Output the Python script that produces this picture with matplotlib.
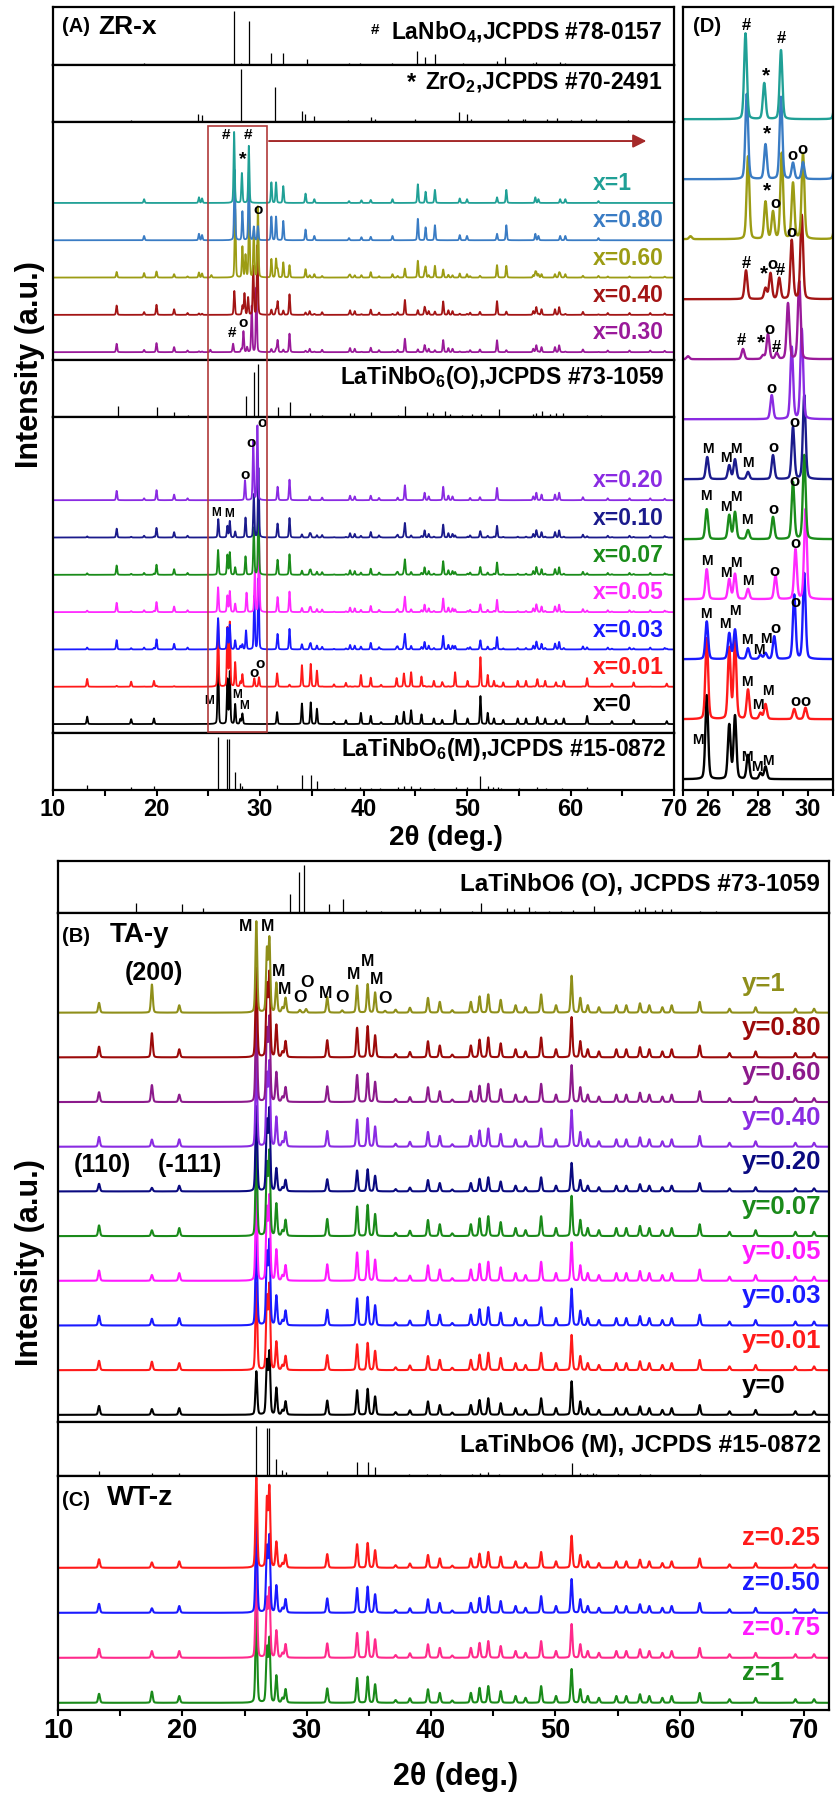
import numpy as np
import matplotlib
matplotlib.use('Agg')
import matplotlib.pyplot as plt
from matplotlib import transforms
from matplotlib.patches import Rectangle
from matplotlib.ticker import MultipleLocator

plt.rcParams['font.family'] = ['Liberation Sans', 'DejaVu Sans']
plt.rcParams['font.weight'] = 'bold'
plt.rcParams['mathtext.fontset'] = 'custom'
plt.rcParams['mathtext.rm'] = 'Liberation Sans:bold'
plt.rcParams['mathtext.bf'] = 'Liberation Sans:bold'
plt.rcParams['mathtext.default'] = 'bf'
SANS = ['Liberation Sans', 'DejaVu Sans']

# ---------------- JCPDS reference sticks (2theta, rel. intensity) ----------------
LANBO4_POS = [18.8, 27.45, 28.2, 28.9, 31.03, 32.25, 34.5, 38.6, 39.66, 42.8, 45.2, 45.9, 46.9,
              49.64, 52.9, 53.7, 56.4, 56.7, 59.0, 59.5, 62.6, 67.4]
LANBO4_INT = [0.03, 1.0, 0.03, 0.82, 0.22, 0.22, 0.12, 0.03, 0.03, 0.03, 0.26, 0.15, 0.2,
              0.03, 0.07, 0.15, 0.04, 0.05, 0.05, 0.04, 0.02, 0.02]

ZRO2_POS = [17.5, 24.05, 24.4, 28.17, 31.45, 34.1, 34.3, 35.25, 38.5, 40.7, 41.1, 45.0, 49.2,
            50.0, 50.4, 54.0, 55.4, 55.6, 57.7, 58.65, 60.0, 61.0, 62.5, 65.6]
ZRO2_INT = [0.04, 0.16, 0.13, 1.0, 0.66, 0.2, 0.15, 0.12, 0.04, 0.1, 0.05, 0.06, 0.18,
            0.15, 0.05, 0.06, 0.06, 0.05, 0.05, 0.07, 0.03, 0.05, 0.06, 0.03]

LTN_O_POS = [16.25, 20.0, 21.7, 23.0, 28.68, 29.42, 29.8, 31.77, 32.9, 34.8, 36.0, 38.7, 39.1,
             40.7, 43.3, 44.0, 46.1, 46.7, 47.9, 48.35, 49.5, 50.45, 51.4, 53.1, 56.4, 56.7,
             57.2, 58.0, 58.6, 59.3, 61.6, 62.9]
LTN_O_INT = [0.21, 0.18, 0.1, 0.03, 0.4, 0.85, 1.0, 0.18, 0.29, 0.07, 0.04, 0.08, 0.08,
             0.1, 0.04, 0.2, 0.1, 0.08, 0.12, 0.05, 0.04, 0.05, 0.06, 0.15, 0.06, 0.08,
             0.12, 0.06, 0.08, 0.08, 0.04, 0.04]

LTN_M_POS = [13.3, 17.55, 19.75, 25.95, 26.8, 26.97, 27.56, 28.05, 28.3, 31.65, 34.07, 34.9,
             35.5, 37.15, 38.2, 39.7, 40.7, 41.6, 43.3, 43.9, 44.6, 45.5, 46.8, 48.9, 50.0,
             51.3, 52.0, 52.5, 53.0, 53.3, 55.0, 56.8, 57.6, 59.2, 61.6]
LTN_M_INT = [0.1, 0.06, 0.07, 1.0, 0.97, 0.97, 0.35, 0.13, 0.08, 0.1, 0.28, 0.28,
             0.18, 0.03, 0.05, 0.05, 0.04, 0.03, 0.05, 0.07, 0.08, 0.05, 0.03, 0.06, 0.05,
             0.27, 0.07, 0.05, 0.06, 0.04, 0.04, 0.05, 0.04, 0.03, 0.05]

# ---------------- measured peak lists (2theta, height in trace-spacing units) ----------------
# LaNbO4 + ZrO2 features of the ZR-x samples
LN_PEAK_POS = [18.8, 24.1, 24.4, 31.1, 31.55, 32.25, 34.4, 35.25, 38.6, 39.8, 40.7, 42.8, 45.25,
               46.0, 46.9, 49.3, 50.0, 52.9, 53.8, 56.6, 56.9, 59.0, 59.5, 62.7]
LN_PEAK_INT = [0.1, 0.15, 0.12, 0.55, 0.55, 0.45, 0.25, 0.1, 0.05, 0.07, 0.08, 0.1, 0.5,
               0.3, 0.35, 0.12, 0.1, 0.15, 0.35, 0.15, 0.1, 0.1, 0.1, 0.05]
# orthorhombic LaTiNbO6
O_PEAK_POS = [16.15, 18.8, 20.0, 21.7, 23.0, 31.7, 32.85, 34.8, 36.0, 38.7, 39.15, 40.7, 41.5,
              43.3, 44.0, 45.9, 46.3, 47.7, 48.2, 48.6, 50.3, 51.25, 52.9, 56.4, 56.7, 57.2,
              58.5, 58.9, 61.2, 63.6, 65.7, 67.7, 69.1]
O_PEAK_INT = [0.25, 0.05, 0.27, 0.15, 0.05, 0.36, 0.55, 0.1, 0.07, 0.12, 0.1, 0.12, 0.06,
              0.07, 0.4, 0.2, 0.1, 0.36, 0.12, 0.1, 0.06, 0.08, 0.33, 0.1, 0.2, 0.15,
              0.15, 0.2, 0.08, 0.05, 0.05, 0.05, 0.04]
# monoclinic LaTiNbO6
M_PEAK_POS = [13.3, 17.55, 19.75, 25.95, 26.8, 27.0, 27.56, 28.05, 28.3, 31.65, 34.05, 34.9,
              35.5, 37.15, 38.3, 39.75, 40.7, 41.7, 43.2, 43.9, 44.6, 45.6, 46.8, 47.6, 48.85,
              50.05, 51.3, 52.0, 52.6, 53.5, 54.9, 55.7, 56.8, 57.55, 58.6, 59.35, 61.6, 64.0,
              66.1, 69.3, 70.8]
M_PEAK_INT = [0.2, 0.13, 0.15, 0.97, 1.15, 1.38, 0.6, 0.1, 0.3, 0.32, 0.55, 0.58,
              0.41, 0.06, 0.1, 0.3, 0.22, 0.05, 0.22, 0.33, 0.37, 0.26, 0.15, 0.11, 0.37,
              0.15, 0.75, 0.3, 0.15, 0.11, 0.15, 0.15, 0.19, 0.15, 0.11, 0.15, 0.22, 0.08,
              0.11, 0.08, 0.08]

# ---------------- (A)/(D) ZR-x series ----------------
ZR_LABELS = ['x=1', 'x=0.80', 'x=0.60', 'x=0.40', 'x=0.30', 'x=0.20', 'x=0.10', 'x=0.07',
             'x=0.05', 'x=0.03', 'x=0.01', 'x=0']
ZR_COLORS = ['#20a096', '#3a7cc4', '#9c9c14', '#a31515', '#9a1a9a', '#8a2be2', '#1b1b8c',
             '#1a8c1a', '#ff2aff', '#1a1aff', '#ff1a1a', '#000000']
# phase weights (LaNbO4/ZrO2, O, M) outside the zoomed window
ZR_PHASE_W = [(1.0, 0, 0), (1.15, 0, 0), (0.9, 0.6, 0), (0.25, 1.0, 0), (0.15, 0.9, 0),
              (0, 1.0, 0), (0, 0.95, 0.15), (0, 1.0, 0.2), (0, 1.0, 0.2), (0, 1.0, 0.25),
              (0, 0.1, 1.05), (0, 0, 1.0)]
# peaks in the 25-31 deg window, heights as read in panel (D)
ZR_WINDOW = [
    [[27.5, 1.43], [28.25, 0.6], [28.92, 1.15]],
    [[27.55, 1.42], [28.3, 0.58], [28.92, 1.37], [29.4, 0.27], [29.8, 0.28]],
    [[25.3, 0.05], [27.6, 1.38], [28.3, 0.62], [28.6, 0.45], [28.95, 1.43], [29.4, 0.93], [29.8, 1.43]],
    [[27.52, 0.48], [28.3, 0.18], [28.5, 0.43], [28.85, 0.35], [29.35, 0.98], [29.75, 1.4]],
    [[25.2, 0.05], [27.4, 0.17], [28.2, 0.06], [28.4, 0.42], [28.75, 0.1], [29.2, 0.93], [29.65, 1.3]],
    [[28.55, 0.4], [29.35, 1.2], [29.75, 1.5]],
    [[25.97, 0.37], [26.85, 0.23], [27.08, 0.33], [27.6, 0.12], [28.6, 0.4], [29.4, 0.87], [29.85, 1.4]],
    [[25.95, 0.5], [26.85, 0.4], [27.08, 0.45], [27.6, 0.15], [28.6, 0.37], [29.4, 0.95], [29.85, 1.4]],
    [[25.95, 0.5], [26.85, 0.33], [27.08, 0.42], [27.6, 0.17], [28.7, 0.39], [29.5, 0.83], [29.9, 1.5]],
    [[25.95, 0.63], [26.85, 0.43], [27.08, 0.49], [27.6, 0.18], [28.1, 0.07], [28.3, 0.1],
     [28.65, 0.38], [29.45, 1.07], [29.85, 1.43]],
    [[25.95, 1.35], [26.85, 1.18], [27.08, 1.29], [27.6, 0.49], [28.1, 0.1], [28.3, 0.25],
     [29.45, 0.17], [29.9, 0.19]],
    [[25.95, 1.4], [26.85, 0.9], [27.08, 1.05], [27.6, 0.4], [28.1, 0.1], [28.3, 0.21]],
]
# phase markers: (series, 2theta, height above baseline, symbol)
ZR_MARKS_A = [(0, 26.68, 1.82, '#'), (0, 28.87, 1.82, '#'), (0, 28.3, 1.15, '*'),
              (1, 29.84, 0.8, 'o'), (4, 27.3, 0.51, '#'), (4, 28.4, 0.78, 'o'),
              (5, 30.16, 2.08, 'o'), (5, 29.1, 1.52, 'o'), (5, 28.55, 0.67, 'o'),
              (6, 25.75, 0.67, 'M'), (6, 27.0, 0.62, 'M'),
              (10, 29.4, 0.38, 'o'), (10, 30.0, 0.62, 'o'),
              (11, 25.1, 0.62, 'M'), (11, 27.8, 0.78, 'M'), (11, 28.45, 0.48, 'M')]
ZR_MARKS_D = [(0, 27.55, 1.57, '#'), (0, 28.95, 1.35, '#'), (0, 28.3, 0.72, '*'),
              (1, 28.35, 0.76, '*'), (1, 29.39, 0.4, 'o'), (1, 29.79, 0.5, 'o'),
              (2, 28.37, 0.81, '*'), (2, 28.68, 0.59, 'o'),
              (3, 29.35, 1.11, 'o'), (3, 27.52, 0.6, '#'), (3, 28.25, 0.43, '*'),
              (3, 28.57, 0.58, 'o'), (3, 28.9, 0.48, '#'),
              (4, 27.35, 0.31, '#'), (4, 28.12, 0.27, '*'), (4, 28.44, 0.5, 'o'), (4, 28.75, 0.19, '#'),
              (5, 28.55, 0.51, 'o'),
              (6, 26.0, 0.5, 'M'), (6, 26.7, 0.36, 'M'), (6, 27.1, 0.51, 'M'), (6, 27.6, 0.27, 'M'),
              (6, 28.6, 0.53, 'o'), (6, 29.45, 0.94, 'o'),
              (7, 25.92, 0.72, 'M'), (7, 26.7, 0.53, 'M'), (7, 27.1, 0.7, 'M'), (7, 27.55, 0.32, 'M'),
              (7, 28.6, 0.49, 'o'), (7, 29.45, 0.97, 'o'),
              (8, 25.95, 0.63, 'M'), (8, 26.7, 0.44, 'M'), (8, 27.1, 0.61, 'M'), (8, 27.6, 0.31, 'M'),
              (8, 28.67, 0.47, 'o'), (8, 29.5, 0.93, 'o'),
              (9, 25.93, 0.76, 'M'), (9, 26.67, 0.58, 'M'), (9, 27.07, 0.8, 'M'), (9, 27.55, 0.32, 'M'),
              (9, 28.05, 0.15, 'M'), (9, 28.3, 0.34, 'M'), (9, 28.68, 0.52, 'o'), (9, 29.5, 0.95, 'o'),
              (10, 27.55, 0.62, 'M'), (10, 28.0, 0.23, 'M'), (10, 28.4, 0.47, 'M'),
              (10, 29.5, 0.29, 'o'), (10, 29.9, 0.29, 'o'),
              (11, 25.6, 0.66, 'M'), (11, 27.55, 0.37, 'M'), (11, 27.97, 0.2, 'M'), (11, 28.4, 0.31, 'M')]

# ---------------- (B) TA-y series ----------------
TA_LABELS = ['y=1', 'y=0.80', 'y=0.60', 'y=0.40', 'y=0.20', 'y=0.07', 'y=0.05', 'y=0.03', 'y=0.01', 'y=0']
TA_COLORS = ['#8f8f1a', '#9c0a0a', '#8c1a8c', '#8a2be2', '#0a0a80', '#1a8a1a', '#ff1aff',
             '#1a1aff', '#ff1a1a', '#000000']
TA_SCALE = [1.1, 1.2, 1.1, 1.1, 0.85, 1.2, 1.15, 1.1, 1.05, 1.0]
TA_H26 = [2.04, 2.0, 2.0, 2.0, 1.9, 2.0, 2.0, 2.0, 1.95, 0.97]
TA_H27 = [1.63, 1.85, 1.85, 1.85, 1.8, 1.85, 1.85, 1.85, 1.87, 1.38]
TA_H200 = [0.63, 0.54, 0.38, 0.16, 0.08, 0.13, 0.13, 0.15, 0.19, 0.13]
TA_Y1_EXTRA = [[29.45, 0.06], [29.95, 0.08], [32.85, 0.05], [36.3, 0.04]]
TA_MARKS = [(25.1, 1.93, 'M'), (26.84, 1.93, 'M'), (27.7, 0.92, 'M'), (28.2, 0.51, 'M'),
            (29.5, 0.33, 'O'), (30.0, 0.68, 'O'), (31.53, 0.43, 'M'), (32.84, 0.33, 'O'),
            (33.8, 0.85, 'M'), (34.93, 1.15, 'M'), (35.65, 0.74, 'M'), (36.27, 0.31, 'O')]

# ---------------- (C) WT-z series ----------------
WT_LABELS = ['z=0.25', 'z=0.50', 'z=0.75', 'z=1']
WT_COLORS = ['#ff1a1a', '#1a1aff', '#ff2a8c', '#1a8a1a']
WT_LABEL_COLORS = ['#ff1a1a', '#1a1aff', '#ff1aff', '#1a8a1a']
WT_SCALE = [0.95, 1.0, 1.0, 1.0]
WT_H26 = [2.0, 2.0, 2.05, 2.02]
WT_H27 = [1.76, 1.67, 1.5, 1.4]
WT_H200 = [0.12, 0.1, 0.15, 0.25]

# ---------------- helpers ----------------
W, H = 838, 1794
TT = np.arange(10.0, 72.0, 0.01)
D_TO_A = 1.33          # (A) trace units per (D) trace unit
WIN = (25.0, 30.5)


def profile(pos, amp, fwhm):
    y = np.zeros_like(TT)
    for p, a in zip(pos, amp):
        d = (TT - p) / fwhm
        y += a * (0.75 * np.exp(-4 * np.log(2) * d ** 2) + 0.25 / (1 + 4 * d ** 2))
    return y


def zr_pattern(i):
    pos, amp = [], []
    for P, A, w in ((LN_PEAK_POS, LN_PEAK_INT, ZR_PHASE_W[i][0]),
                    (O_PEAK_POS, O_PEAK_INT, ZR_PHASE_W[i][1]),
                    (M_PEAK_POS, M_PEAK_INT, ZR_PHASE_W[i][2])):
        if w == 0:
            continue
        for p, a in zip(P, A):
            if not (WIN[0] <= p <= WIN[1]):
                pos.append(p)
                amp.append(a * w / D_TO_A)
    for p, h in ZR_WINDOW[i]:
        pos.append(p)
        amp.append(h)
    return profile(pos, amp, 0.13)          # in (D) units


def m_pattern(scale, h26, h27, h200, extra=()):
    amp = [a * scale for a in M_PEAK_INT]
    amp[M_PEAK_POS.index(25.95)] = h26
    amp[M_PEAK_POS.index(26.8)] = 0.85 * h27
    amp[M_PEAK_POS.index(27.0)] = h27
    amp[M_PEAK_POS.index(17.55)] = h200
    pos = list(M_PEAK_POS) + [e[0] for e in extra]
    amp = amp + [e[1] for e in extra]
    return profile(pos, amp, 0.17)


fig = plt.figure(figsize=(W / 100, H / 100), dpi=100)


def add_ax(x0, x1, y0, y1, xlim, ylim):
    ax = fig.add_axes([x0 / W, 1 - y1 / H, (x1 - x0) / W, (y1 - y0) / H])
    for s in ax.spines.values():
        s.set_linewidth(1.6)
    ax.set_yticks([])
    ax.set_xlim(*xlim)
    ax.set_ylim(*ylim)
    ax.tick_params(axis='x', which='both', bottom=False, labelbottom=False)
    return ax


def sticks(ax, pos, inten):
    ax.vlines(pos, 0, inten, color='k', lw=0.9)


def bottom_ticks(ax, major, minor, size):
    ax.set_xticks(major)
    ax.xaxis.set_minor_locator(MultipleLocator(minor))
    ax.tick_params(axis='x', which='both', bottom=True, labelbottom=True, direction='out',
                   width=1.5, length=4, labelsize=size, labelfontfamily=SANS, pad=2)


def fx(x):
    return x / W


def fy(y):
    return 1 - y / H


REF_LIM = (0, 1.08)

# ================= panel (A) =================
axA_ln = add_ax(53, 674, 7, 65, (10, 70), REF_LIM)
axA_zr = add_ax(53, 674, 65, 122, (10, 70), REF_LIM)
axA_hi = add_ax(53, 674, 122, 360, (10, 70), (-0.21, 6.17))
axA_o = add_ax(53, 674, 360, 417, (10, 70), REF_LIM)
axA_lo = add_ax(53, 674, 417, 733, (10, 70), (-0.24, 8.23))
axA_m = add_ax(53, 674, 733, 790, (10, 70), REF_LIM)

sticks(axA_ln, LANBO4_POS, LANBO4_INT)
sticks(axA_zr, ZRO2_POS, ZRO2_INT)
sticks(axA_o, LTN_O_POS, LTN_O_INT)
sticks(axA_m, LTN_M_POS, LTN_M_INT)
bottom_ticks(axA_m, range(10, 71, 10), 5, 17)

axA_ln.text(68.9, 0.62, r'LaNbO$_4$,JCPDS #78-0157', ha='right', va='center', fontsize=16.5)
axA_ln.text(41.1, 0.66, '#', ha='center', va='center', fontsize=11)
axA_zr.text(68.9, 0.74, r'ZrO$_2$,JCPDS #70-2491', ha='right', va='center', fontsize=16.5)
axA_zr.text(44.6, 0.74, '*', ha='center', va='center', fontsize=17)
axA_o.text(69.1, 0.74, r'LaTiNbO$_6$(O),JCPDS #73-1059', ha='right', va='center', fontsize=16.5)
axA_m.text(69.3, 0.76, r'LaTiNbO$_6$(M),JCPDS #15-0872', ha='right', va='center', fontsize=16.5)

zr_curves = [zr_pattern(i) for i in range(len(ZR_LABELS))]


def zr_axes(i):
    return (axA_hi, 4 - i) if i < 5 else (axA_lo, 11 - i)


for i in reversed(range(len(ZR_LABELS))):
    ax, off = zr_axes(i)
    ax.plot(TT, zr_curves[i] * D_TO_A + off, color=ZR_COLORS[i], lw=1.3)
    ax.text(62.2, off + 0.52, ZR_LABELS[i], color=ZR_COLORS[i], ha='left', va='center', fontsize=16.5)

for i, t, h, s in ZR_MARKS_A:
    ax, off = zr_axes(i)
    fs = 8.5 if s == 'M' else (14 if s == '*' else 11)
    ax.text(t, off + h, s, ha='center', va='center', fontsize=fs)

# zoom box and arrow
blend = transforms.blended_transform_factory(axA_lo.transData, fig.transFigure)
fig.add_artist(Rectangle((25.0, fy(732)), 5.7, fy(126) - fy(732), transform=blend,
                         fill=False, ec='#b03a3a', lw=1.2))
axA_hi.annotate('', xy=(67.6, 5.66), xytext=(30.6, 5.66),
                arrowprops=dict(arrowstyle='-|>', color='#a52a2a', lw=1.4, mutation_scale=20))

fig.text(fx(62), fy(27), '(A)', ha='left', va='center', fontsize=14.5)
fig.text(fx(98), fy(27), 'ZR-x', ha='left', va='center', fontsize=19)
fig.text(fx(30), fy(365), 'Intensity (a.u.)', rotation=90, ha='center', va='center', fontsize=22)
fig.text(fx(446), fy(838), '2\u03b8 (deg.)', ha='center', va='center', fontsize=20)

# ================= panel (D) =================
axD = add_ax(683, 833, 7, 790, (25, 31), (-0.18, 12.87))
bottom_ticks(axD, [26, 28, 30], 1, 17)
for i in reversed(range(len(ZR_LABELS))):
    axD.plot(TT, zr_curves[i] + (11 - i), color=ZR_COLORS[i], lw=1.7)
for i, t, h, s in ZR_MARKS_D:
    fs = 10 if s == 'M' else (15 if s == '*' else 12)
    axD.text(t, (11 - i) + h, s, ha='center', va='center', fontsize=fs)
fig.text(fx(693), fy(27), '(D)', ha='left', va='center', fontsize=14.5)

# ================= panels (B) and (C) =================
axB_o = add_ax(58, 829, 861, 913, (10, 72), REF_LIM)
axB = add_ax(58, 829, 913, 1422, (10, 72), (-0.16, 11.23))
axB_m = add_ax(58, 829, 1422, 1476, (10, 72), REF_LIM)
axC = add_ax(58, 829, 1476, 1710, (10, 72), (-0.16, 5.04))
bottom_ticks(axC, range(10, 71, 10), 5, 19.5)

sticks(axB_o, LTN_O_POS, LTN_O_INT)
sticks(axB_m, LTN_M_POS, LTN_M_INT)
axB_o.text(71.3, 0.6, 'LaTiNbO6 (O), JCPDS #73-1059', ha='right', va='center', fontsize=17.5)
axB_m.text(71.4, 0.61, 'LaTiNbO6 (M), JCPDS #15-0872', ha='right', va='center', fontsize=17.5)

n_ta = len(TA_LABELS)
for i in reversed(range(n_ta)):
    off = n_ta - 1 - i
    extra = TA_Y1_EXTRA if i == 0 else ()
    y = m_pattern(TA_SCALE[i], TA_H26[i], TA_H27[i], TA_H200[i], extra)
    axB.plot(TT, y + off, color=TA_COLORS[i], lw=1.5)
    axB.text(65.0, off + 0.65, TA_LABELS[i], color=TA_COLORS[i], ha='left', va='center', fontsize=18.5)
for t, h, s in TA_MARKS:
    axB.text(t, n_ta - 1 + h, s, ha='center', va='center', fontsize=11.5 if s == 'M' else 12.5)

n_wt = len(WT_LABELS)
for i in reversed(range(n_wt)):
    off = n_wt - 1 - i
    y = m_pattern(WT_SCALE[i], WT_H26[i], WT_H27[i], WT_H200[i])
    axC.plot(TT, y + off, color=WT_COLORS[i], lw=1.5)
    axC.text(65.0, off + 0.67, WT_LABELS[i], color=WT_LABEL_COLORS[i], ha='left', va='center',
             fontsize=18.5)

fig.text(fx(62), fy(936), '(B)', ha='left', va='center', fontsize=14.5)
fig.text(fx(110), fy(935), 'TA-y', ha='left', va='center', fontsize=20)
fig.text(fx(154), fy(973), '(200)', ha='center', va='center', fontsize=18)
fig.text(fx(102), fy(1165), '(110)', ha='center', va='center', fontsize=18)
fig.text(fx(190), fy(1165), '(-111)', ha='center', va='center', fontsize=18)
fig.text(fx(62), fy(1500), '(C)', ha='left', va='center', fontsize=14.5)
fig.text(fx(107), fy(1498), 'WT-z', ha='left', va='center', fontsize=20.5)
fig.text(fx(30), fy(1263), 'Intensity (a.u.)', rotation=90, ha='center', va='center', fontsize=22)
fig.text(fx(456), fy(1777), '2\u03b8 (deg.)', ha='center', va='center', fontsize=22)

fig.savefig('out.png', dpi=100, facecolor='white')
